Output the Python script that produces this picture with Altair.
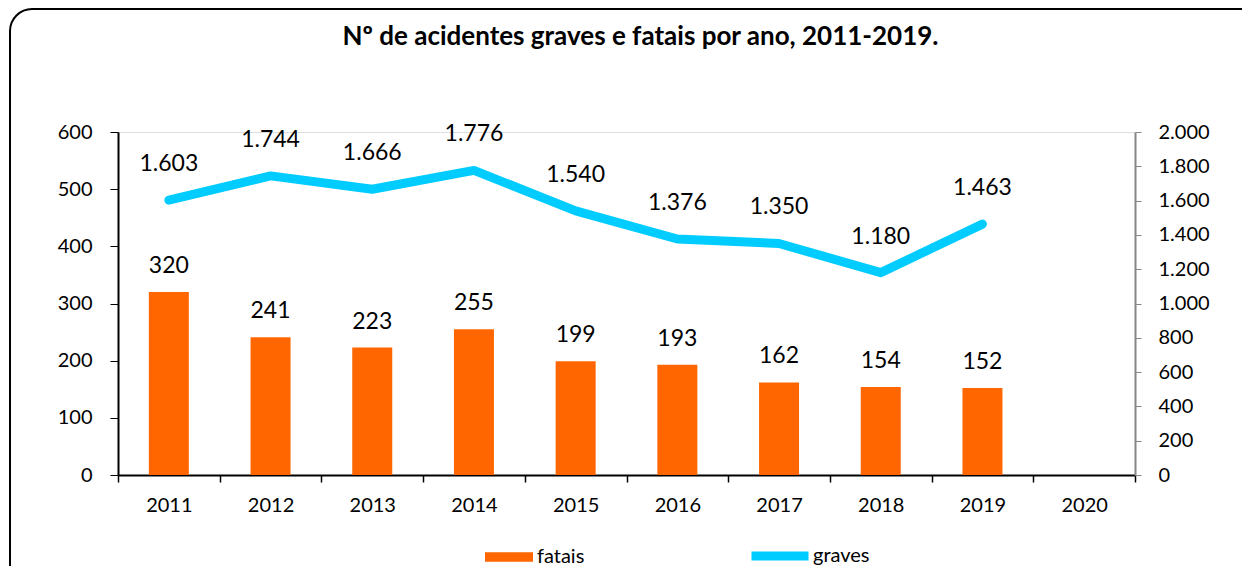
import altair as alt
import pandas as pd

anos = ["2011", "2012", "2013", "2014", "2015", "2016", "2017", "2018", "2019", "2020"]
fatais = [320, 241, 223, 255, 199, 193, 162, 154, 152, None]
graves = [1603, 1744, 1666, 1776, 1540, 1376, 1350, 1180, 1463, None]

df = pd.DataFrame({"ano": anos, "fatais": fatais, "graves": graves})
df["fatais_lbl"] = [str(v) if v is not None else "" for v in fatais]
df["graves_lbl"] = [f"{v:,}".replace(",", ".") if v is not None else "" for v in graves]
df["s_fat"] = "fatais"
df["s_grv"] = "graves"

FONT = "Lato"
W, H = 1017, 343
ORANGE = "#FF6600"
CYAN = "#00CCFF"

xenc = alt.X("ano:N", scale=alt.Scale(domain=anos, paddingInner=0, paddingOuter=0),
             axis=alt.Axis(title=None, labelAngle=0, tickBand="extent", domainColor="black",
                           tickColor="black", tickSize=7, domainWidth=2, tickWidth=1.5,
                           labelFontSize=20, labelFont=FONT, labelColor="black", labelPadding=13))

base = alt.Chart(df).encode(x=xenc)

left_axis = alt.Axis(title=None, values=[0, 100, 200, 300, 400, 500, 600], grid=False,
                     domainColor="black", domainWidth=2, tickColor="black", tickSize=8,
                     labelFontSize=20, labelFont=FONT, labelColor="black", labelPadding=18)
right_axis = alt.Axis(title=None, orient="right", values=list(range(0, 2001, 200)), grid=False,
                      domainColor="#868686", domainWidth=2, tickColor="#868686", tickSize=6,
                      labelFontSize=20, labelFont=FONT, labelColor="black", labelPadding=17,
                      labelExpr="replace(format(datum.value, ','), ',', '.')")
yl = alt.Scale(domain=[0, 600], nice=False)
yr = alt.Scale(domain=[0, 2000], nice=False)

border = alt.Chart(pd.DataFrame({"a": [0]})).mark_rect(
    cornerRadius=22, filled=False, stroke="black", strokeWidth=2
).encode(x=alt.value(-108), x2=alt.value(W + 140), y=alt.value(-123), y2=alt.value(H + 140))

bars = base.mark_bar(size=40).encode(
    y=alt.Y("fatais:Q", scale=yl, axis=left_axis),
    fill=alt.Fill("s_fat:N", scale=alt.Scale(domain=["fatais"], range=[ORANGE]),
                  legend=alt.Legend(title=None, orient="none", legendX=367, legendY=401,
                                    symbolType="M-1,-0.2H1V0.2H-1Z", symbolSize=2304,
                                    symbolStrokeWidth=0, labelFontSize=20, labelFont=FONT,
                                    labelColor="black", labelOffset=4)),
)

bar_text = base.mark_text(fontSize=23, font=FONT, baseline="bottom", dy=-14, color="black").encode(
    y=alt.Y("fatais:Q", scale=yl, axis=left_axis),
    text="fatais_lbl:N",
)

line = base.mark_line(strokeWidth=9, strokeCap="round", strokeJoin="round").encode(
    y=alt.Y("graves:Q", scale=yr, axis=right_axis),
    stroke=alt.Stroke("s_grv:N", scale=alt.Scale(domain=["graves"], range=[CYAN]),
                      legend=alt.Legend(title=None, orient="none", legendX=629, legendY=391,
                                        symbolType="stroke", symbolSize=3249,
                                        symbolStrokeWidth=9, labelFontSize=20, labelFont=FONT,
                                        labelColor="black", labelOffset=0)),
)

line_text = base.mark_text(fontSize=23, font=FONT, baseline="bottom", dy=-24, color="black").encode(
    y=alt.Y("graves:Q", scale=yr, axis=right_axis),
    text="graves_lbl:N",
)

left = alt.layer(border, bars, bar_text)
right = alt.layer(line, line_text)

chart = alt.layer(left, right).resolve_scale(y="independent", fill="independent", stroke="independent").properties(
    width=W, height=H,
    title=alt.Title("Nº de acidentes graves e fatais por ano, 2011-2019.", font=FONT, fontSize=26,
                    fontWeight="bold", color="black", anchor="middle", dx=14, offset=-42),
    autosize=alt.AutoSizeParams(type="none"),
    padding={"left": 110, "top": 124, "right": 107, "bottom": 91},
).configure_view(strokeWidth=0).configure(background="white")

chart.save("out.html", embed_options={"renderer": "svg", "actions": False})
